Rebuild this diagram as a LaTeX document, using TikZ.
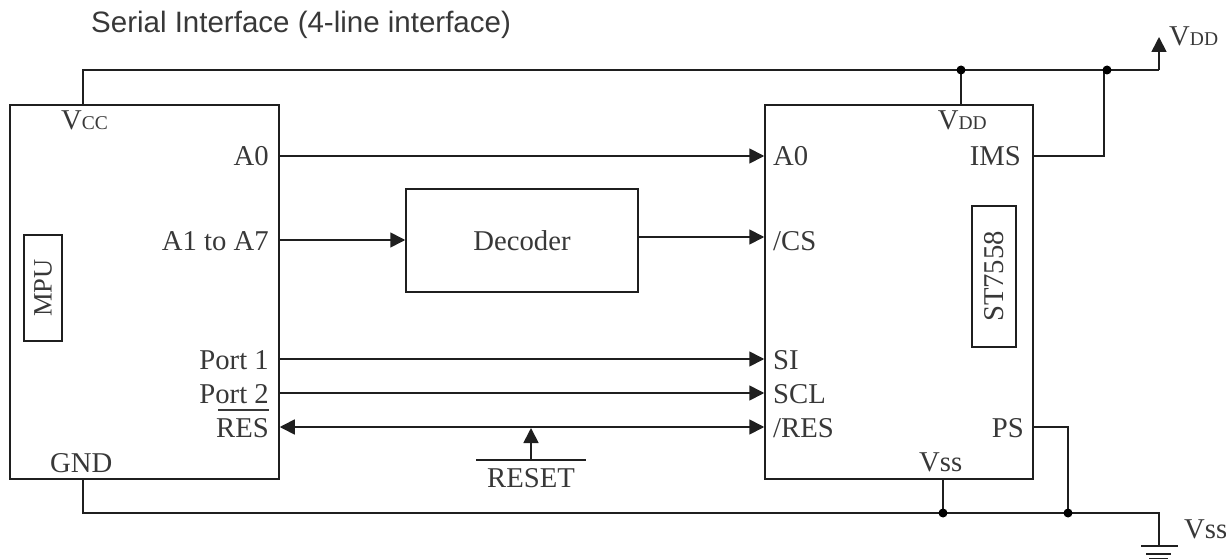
\documentclass[tikz,border=0pt]{standalone}
\usepackage{fontspec}
\setmainfont{Liberation Serif}
\newfontfamily\headfont{Liberation Sans}
\usetikzlibrary{arrows.meta}
\definecolor{ink}{gray}{0.12}
\definecolor{txt}{gray}{0.22}
\newcommand{\smc}[1]{{\fontsize{19.5}{19.5}\selectfont #1}}
\tikzset{
  x=1pt,y=-1pt,
  wire/.style={draw=ink,line width=1.7pt},
  sig/.style={wire,-{Triangle[length=15pt,width=15pt]}},
  bisig/.style={wire,{Triangle[length=15pt,width=15pt]}-{Triangle[length=15pt,width=15pt]}},
  box/.style={draw=ink,line width=1.5pt,inner sep=0pt,minimum width=0pt},
  lab/.style={text=txt,font=\fontsize{28.7}{28.7}\selectfont,inner sep=0pt},
  dot/.style={circle,fill=black,inner sep=0pt,minimum size=9pt},
  lr/.style={lab,anchor=base east},
  ll/.style={lab,anchor=base west},
}
\begin{document}
\begin{tikzpicture}
\useasboundingbox (0,0) rectangle (1226,559);
% boxes
\node[box,minimum width=269pt,minimum height=374pt] (mpu) at (144.5,292) {};
\node[box,minimum width=268pt,minimum height=374pt] (st) at (899,292) {};
\node[box,minimum width=232pt,minimum height=103pt] (dec) at (522,240.5) {};
\node[box,minimum width=38pt,minimum height=106pt] (mpul) at (43,288) {};
\node[box,minimum width=44pt,minimum height=141pt] (stl) at (994,276.5) {};
\node[lab] at (dec.center) {Decoder};
\node[lab,rotate=90,font=\fontsize{26.5}{26.5}\selectfont] at (mpul.center) {MPU};
\node[lab,rotate=90] at (stl.center) {ST7558};
% title
\node[anchor=base west,inner sep=0pt,text=txt,font=\headfont\fontsize{29.5}{29.5}\selectfont] (title) at (91,33) {Serial Interface (4-line interface)};
% left labels
\node[ll] (vcc) at (61,130) {V\smc{CC}};
\node[lr] (a0l) at (269,165) {A0};
\node[lr] (a1l) at (269,250) {A1 to A7};
\node[lr] (p1) at (269,369) {Port 1};
\node[lr] (p2) at (269,403) {Port 2};
\node[lr] (resl) at (269,437) {RES};
\coordinate (resov1) at (218,410);
\coordinate (resov2) at (269,410);
\draw[draw=txt,line width=1.3pt] (resov1) -- (resov2);
\node[ll] (gnd) at (50,472) {GND};
% right labels
\node[ll] (a0r) at (773,165) {A0};
\node[ll] (csr) at (773,250) {/CS};
\node[ll] (sir) at (773,369) {SI};
\node[ll] (sclr) at (773,403) {SCL};
\node[ll] (resr) at (773,437) {/RES};
\node[lr] (vddi) at (987,130) {V\smc{DD}};
\node[lr] (ims) at (1021,165) {IMS};
\node[lr] (ps) at (1024,437) {PS};
\node[ll] (vssi) at (919,471) {Vss};
\node[ll] (vddo) at (1169,46) {V\smc{DD}};
\node[ll] (vsso) at (1184,538) {Vss};
% reset
\node[lab,anchor=base] (rst) at (531,487) {RESET};
\coordinate (rstb1) at (476,460);
\coordinate (rstb2) at (586,460);
\draw[wire] (rstb1) -- (rstb2);
% signal coordinates on box edges
\coordinate (mA) at (mpu.east |- 0,156);
\coordinate (sA) at (st.west |- 0,156);
\coordinate (mD) at (mpu.east |- 0,240);
\coordinate (dW) at (dec.west |- 0,240);
\coordinate (dE) at (dec.east |- 0,237);
\coordinate (sD) at (st.west |- 0,237);
\coordinate (mP1) at (mpu.east |- 0,359);
\coordinate (sP1) at (st.west |- 0,359);
\coordinate (mP2) at (mpu.east |- 0,393);
\coordinate (sP2) at (st.west |- 0,393);
\coordinate (mR) at (mpu.east |- 0,427);
\coordinate (sR) at (st.west |- 0,427);
\coordinate (rstt) at (531,460);
\coordinate (rsth) at (531,428);
\draw[sig] (mA) -- (sA);
\draw[sig] (mD) -- (dW);
\draw[sig] (dE) -- (sD);
\draw[sig] (mP1) -- (sP1);
\draw[sig] (mP2) -- (sP2);
\draw[bisig] (mR) -- (sR);
\draw[sig] (rstt) -- (rsth);
% power
\coordinate (mt) at (83,105);
\coordinate (tl) at (83,70);
\coordinate (tr) at (1159,70);
\coordinate (vddt) at (1159,37);
\coordinate (j1) at (961,70);
\coordinate (j2) at (1107,70);
\coordinate (s1) at (961,105);
\coordinate (imsE) at (1033,156);
\coordinate (imsC) at (1104,156);
\coordinate (imsT) at (1104,70);
\draw[wire] (mt) -- (tl) -- (tr);
\draw[sig] (tr) -- (vddt);
\draw[wire] (j1) -- (s1);
\draw[wire] (imsE) -- (imsC) -- (imsT);
\node[dot] (d1) at (j1) {};
\node[dot] (d2) at (j2) {};
% ground
\coordinate (mb) at (83,479);
\coordinate (bl) at (83,513);
\coordinate (br) at (1159,513);
\coordinate (gt) at (1159,546);
\coordinate (j3) at (943,513);
\coordinate (j4) at (1068,513);
\coordinate (sb) at (943,479);
\coordinate (psE) at (1033,427);
\coordinate (psC) at (1068,427);
\draw[wire] (mb) -- (bl) -- (br) -- (gt);
\draw[wire] (sb) -- (j3);
\draw[wire] (psE) -- (psC) -- (j4);
\node[dot] (d3) at (j3) {};
\node[dot] (d4) at (j4) {};
\draw[wire] (1141,546) -- (1178,546);
\draw[wire] (1146,554) -- (1171,554);
\draw[draw=ink,line width=1.2pt] (1149,558.4) -- (1168,558.4);
\end{tikzpicture}
\end{document}
